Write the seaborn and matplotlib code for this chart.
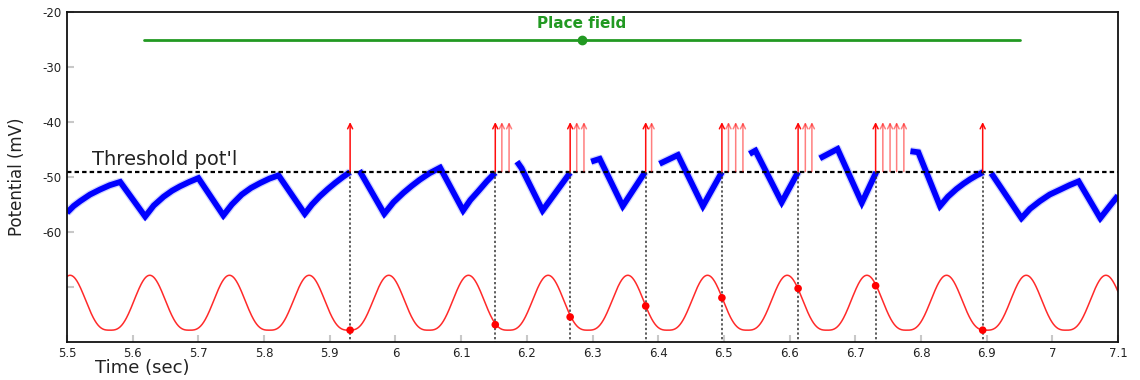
import numpy as np
import pandas as pd
import matplotlib
matplotlib.use('Agg')
from matplotlib import pyplot as plt
import seaborn as sns

# membrane potential, one list per stretch between resets (time in s, potential in mV)
seg_t = [
    [5.500, 5.510, 5.520, 5.535, 5.550, 5.565, 5.581,
     5.619, 5.632, 5.647, 5.660, 5.672, 5.686, 5.700,
     5.738, 5.751, 5.766, 5.780, 5.794, 5.808, 5.822,
     5.862, 5.873, 5.885, 5.897, 5.908, 5.920, 5.931],
    [5.945, 5.983, 5.997, 6.012, 6.025, 6.037, 6.052, 6.068,
     6.103, 6.114, 6.126, 6.139, 6.152],
    [6.185, 6.192, 6.224, 6.266],
    [6.298, 6.311, 6.346, 6.380],
    [6.402, 6.430, 6.468, 6.497],
    [6.539, 6.548, 6.588, 6.613],
    [6.646, 6.673, 6.710, 6.732],
    [6.784, 6.796, 6.829, 6.841, 6.854, 6.865, 6.875, 6.885, 6.895],
    [6.907, 6.953, 6.966, 6.981, 6.996, 7.012, 7.026, 7.040, 7.073, 7.088, 7.100],
]
seg_v = [
    [-56.5, -55.3, -54.4, -53.2, -52.3, -51.5, -50.9,
     -57.2, -55.2, -53.6, -52.5, -51.7, -50.9, -50.2,
     -57.0, -55.0, -53.2, -52.0, -51.1, -50.3, -49.7,
     -56.7, -55.0, -53.5, -52.2, -51.1, -50.0, -49.1],
    [-48.8, -56.7, -54.6, -52.9, -51.6, -50.5, -49.3, -48.3,
     -56.1, -54.2, -52.6, -50.8, -49.2],
    [-47.2, -48.4, -56.1, -49.2],
    [-47.2, -46.7, -55.3, -49.1],
    [-47.6, -46.0, -55.3, -49.1],
    [-45.8, -45.2, -54.6, -49.1],
    [-46.6, -44.9, -54.7, -49.1],
    [-45.3, -45.5, -55.3, -53.6, -52.2, -51.2, -50.4, -49.7, -49.1],
    [-49.3, -57.5, -55.8, -54.4, -53.2, -52.3, -51.5, -50.8, -57.5, -55.2, -53.4],
]

# spike bursts (s)
bursts = [
    [5.931],
    [6.152, 6.162, 6.173],
    [6.266, 6.276, 6.287],
    [6.381, 6.390],
    [6.497, 6.507, 6.518, 6.529],
    [6.613, 6.624, 6.634],
    [6.731, 6.742, 6.753, 6.763, 6.774],
    [6.894],
]
# theta value at the first spike of each burst
theta_at_onset = [-77.9, -76.9, -75.5, -73.5, -72.0, -70.3, -69.8, -77.9]

# theta rhythm
theta_first_peak = 5.626
theta_period = 0.1213
theta_top = -67.9
theta_bottom = -77.9
theta_sharpness = 1.5

threshold = -49.0
spike_top = -40.0

place_field = [5.617, 6.951]
place_field_level = -25.0

xticks = [5.5, 5.6, 5.7, 5.8, 5.9, 6.0, 6.1, 6.2, 6.3, 6.4, 6.5, 6.6, 6.7, 6.8, 6.9, 7.0, 7.1]
yticks = [-70, -60, -50, -40, -30, -20]
ytick_labels = ['', '-60', '-50', '-40', '-30', '-20']

sns.set_style('ticks')
plt.rcParams['font.family'] = ['DejaVu Sans']

fig = plt.figure(figsize=(11.4, 3.8), dpi=100)
ax = fig.add_axes([67 / 1140, 1 - 341.7 / 380, 1051 / 1140, 329.4 / 380])

# theta wave
tt = np.linspace(5.5, 7.1, 2000)
shape = ((1 + np.cos(2 * np.pi * (tt - theta_first_peak) / theta_period)) / 2) ** theta_sharpness
theta = theta_bottom + (theta_top - theta_bottom) * shape
sns.lineplot(x=tt, y=theta, color='#ff2a2a', lw=1.1, ax=ax)

# membrane potential
rows = []
for i, (ts, vs) in enumerate(zip(seg_t, seg_v)):
    for t, v in zip(ts, vs):
        rows.append({'t': t, 'v': v, 'seg': i})
vm = pd.DataFrame(rows)
sns.lineplot(data=vm, x='t', y='v', units='seg', estimator=None, color='#4455ff',
             lw=6, alpha=0.25, ax=ax, solid_capstyle='butt')
sns.lineplot(data=vm, x='t', y='v', units='seg', estimator=None, color='#0000ff',
             lw=4.2, ax=ax, solid_joinstyle='miter', solid_capstyle='butt')

# threshold
ax.axhline(threshold, color='black', lw=1.6, dashes=(2, 1.4))
ax.text(5.538, -47.9, "Threshold pot'l", fontsize=14, color='#222222', va='baseline')

# spikes
onsets = [b[0] for b in bursts]
for b in bursts:
    for j, t in enumerate(b):
        ax.annotate('', xy=(t, spike_top), xytext=(t, threshold),
                    arrowprops=dict(arrowstyle='->', color='red', lw=1.1,
                                    alpha=0.95 if j == 0 else 0.5,
                                    shrinkA=0, shrinkB=0, mutation_scale=9))
for t in onsets:
    ax.plot([t, t], [threshold, -80], color='#333333', lw=1.1, dashes=(1.5, 1.5))
sns.scatterplot(x=onsets, y=theta_at_onset, color='red', s=30, edgecolor='none',
                zorder=5, ax=ax)

# place field
ax.plot(place_field, [place_field_level] * 2, color='#229922', lw=2)
ax.plot([np.mean(place_field)], [place_field_level], 'o', color='#229922', ms=6)
ax.text(np.mean(place_field), -22.1, 'Place field', color='#229922',
        fontsize=11, fontweight='bold', ha='center', va='center')

ax.set_xlim(5.5, 7.1)
ax.set_ylim(-80, -20)
ax.set_xticks(xticks)
ax.set_xticklabels(['%g' % x for x in xticks])
ax.set_yticks(yticks)
ax.set_yticklabels(ytick_labels)
ax.tick_params(direction='in', color='#c8c8c8', length=5, width=1.5,
               labelsize=8.5, labelcolor='#222222', pad=4)
for s in ax.spines.values():
    s.set_color('#111111')
    s.set_linewidth(1.3)

ax.set_xlabel('Time (sec)', fontsize=13, color='#222222', loc='left')
ax.xaxis.set_label_coords(28 / 1051, -0.052)
ax.set_ylabel('Potential (mV)', fontsize=12, color='#222222')
ax.yaxis.set_label_coords(-0.039, 0.5)

fig.savefig('out.png', dpi=100)
